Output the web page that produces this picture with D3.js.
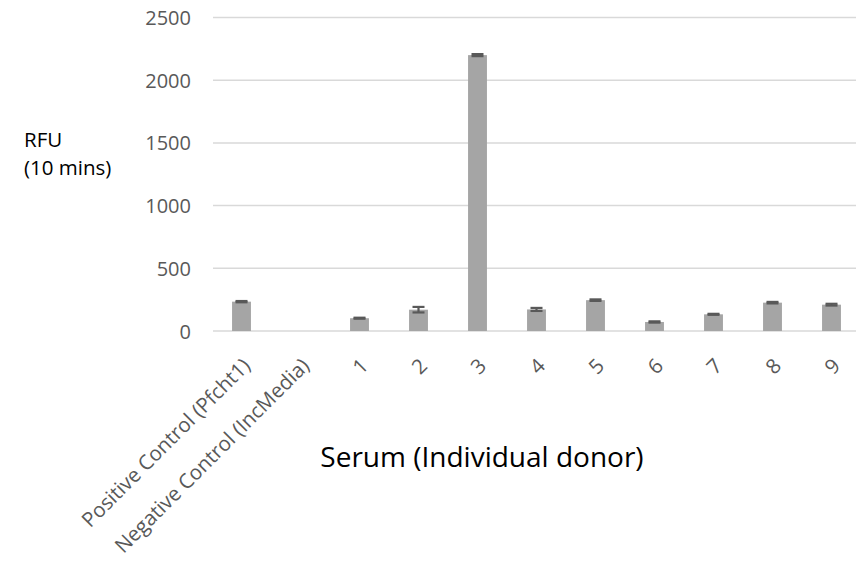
<!DOCTYPE html>
<html>
<head>
<meta charset="utf-8">
<script src="https://cdn.jsdelivr.net/npm/d3@7"></script>
<style>
  body { margin: 0; background: #fff; }
  svg { display: block; font-family: "Open Sans", Lato, sans-serif; }
</style>
</head>
<body>
<svg id="chart" width="856" height="565"></svg>
<script>
// données
var categories = ["Positive Control (Pfcht1)", "Negative Control (IncMedia)", "1", "2", "3", "4", "5", "6", "7", "8", "9"];
var rfu = [234, 0, 102, 170, 2200, 172, 246, 72, 133, 226, 210];
var erreurs = [5, 0, 4, 22, 8, 12, 6, 5, 4, 6, 7];
var yTicks = [0, 500, 1000, 1500, 2000, 2500];

var datas = categories.map(function (c, i) {
  return { cat: c, val: rfu[i], err: erreurs[i] };
});

var svg = d3.select("#chart");
var margin = { top: 17.5, left: 212, bottom: 331, right: 861 };

// échelles
var xScale = d3.scaleBand().domain(categories).range([margin.left, margin.right]).paddingInner(0.68).paddingOuter(0.34);
var yScale = d3.scaleLinear().domain([0, 2500]).range([margin.bottom, margin.top]);

// grille horizontale
svg.append("g").selectAll("line")
  .data(yTicks)
  .enter().append("line")
  .attr("x1", margin.left + 1)
  .attr("x2", 856)
  .attr("y1", function (d) { return yScale(d); })
  .attr("y2", function (d) { return yScale(d); })
  .style("stroke", "#d9d9d9")
  .style("stroke-width", 1.5);

// axe des ordonnées (texte seulement)
var yAxis = svg.append("g")
  .attr("transform", "translate(" + (margin.left - 21) + ",0)")
  .call(d3.axisLeft(yScale).tickValues(yTicks).tickFormat(d3.format("d")).tickSize(0).tickPadding(0));
yAxis.select(".domain").remove();
yAxis.selectAll("text")
  .attr("fill", "#595959")
  .attr("dy", "0.35em")
  .style("font-size", "20px")
  .style("font-family", "'Open Sans', sans-serif");

// barres
svg.append("g").selectAll("rect")
  .data(datas)
  .enter().append("rect")
  .attr("x", function (d) { return xScale(d.cat); })
  .attr("width", xScale.bandwidth())
  .attr("y", function (d) { return yScale(d.val); })
  .attr("height", function (d) { return yScale(0) - yScale(d.val); })
  .style("fill", "#a5a5a5");

// barres d'erreur
var eb = svg.append("g").selectAll("g")
  .data(datas.filter(function (d) { return d.val > 0; }))
  .enter().append("g")
  .style("stroke", "#595959")
  .style("stroke-width", 2.2);
var cx = function (d) { return xScale(d.cat) + xScale.bandwidth() / 2; };
eb.append("line")
  .attr("x1", cx).attr("x2", cx)
  .attr("y1", function (d) { return yScale(d.val + d.err); })
  .attr("y2", function (d) { return yScale(d.val - d.err); });
[1, -1].forEach(function (s) {
  eb.append("line")
    .attr("x1", function (d) { return cx(d) - 6; })
    .attr("x2", function (d) { return cx(d) + 6; })
    .attr("y1", function (d) { return yScale(d.val + s * d.err); })
    .attr("y2", function (d) { return yScale(d.val + s * d.err); });
});

// étiquettes des catégories, tournées de 45°
svg.append("g").selectAll("text")
  .data(categories)
  .enter().append("text")
  .attr("transform", function (d) {
    return "translate(" + (xScale(d) + xScale.bandwidth() / 2 + 5) + "," + (yScale(0) + 31) + ") rotate(-45)";
  })
  .attr("text-anchor", "end")
  .attr("dy", "0.35em")
  .attr("fill", "#595959")
  .style("font-size", "20.5px")
  .text(function (d) { return d; });

// titre de l'axe des abscisses
svg.append("text")
  .attr("x", 482)
  .attr("y", 467)
  .attr("text-anchor", "middle")
  .style("font-size", "28px")
  .attr("fill", "#000")
  .text("Serum (Individual donor)");

// titre de l'axe des ordonnées
var yt = svg.append("text").style("font-size", "20.5px").attr("fill", "#000");
yt.append("tspan").attr("x", 24).attr("y", 147).text("RFU");
yt.append("tspan").attr("x", 24).attr("y", 175).text("(10 mins)");
</script>
</body>
</html>
